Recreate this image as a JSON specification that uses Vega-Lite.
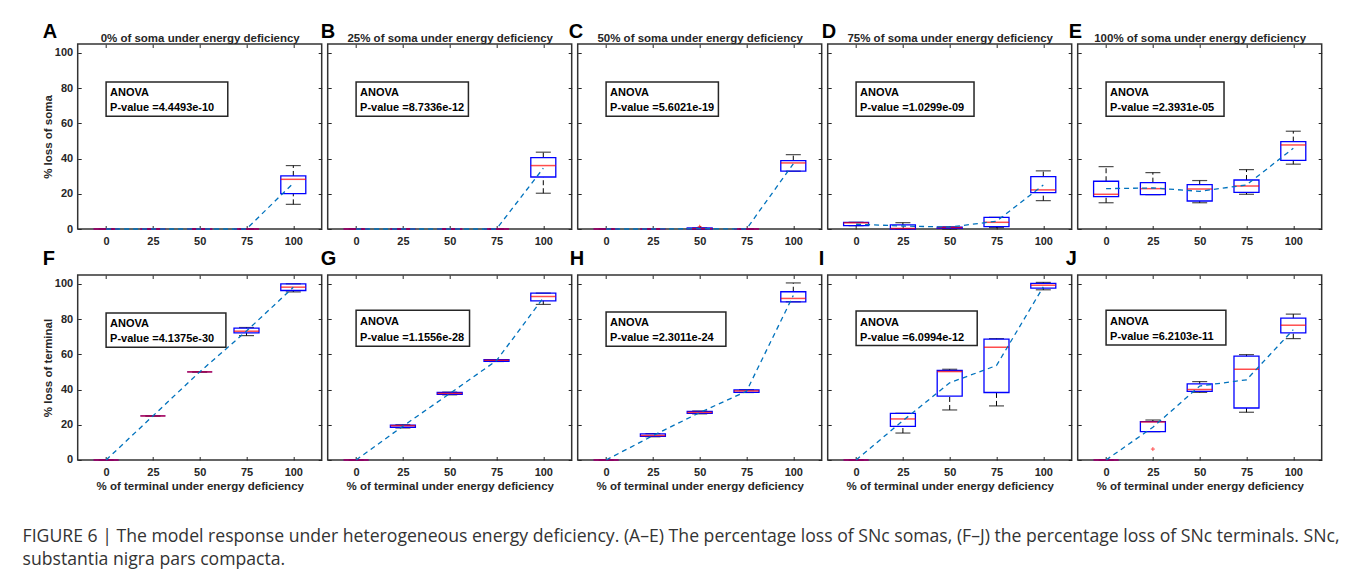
{
"$schema": "https://vega.github.io/schema/vega-lite/v6.json",
"background": "white",
"padding": {"left": 21.7, "top": 20, "right": 5, "bottom": 5},
"bounds": "flush",
"columns": 5,
"spacing": {"row": 46, "column": 6},
"title": {"text": ["FIGURE 6 | The model response under heterogeneous energy deficiency. (A–E) The percentage loss of SNc somas, (F–J) the percentage loss of SNc terminals. SNc,", "substantia nigra pars compacta."], "orient": "bottom", "anchor": "start", "frame": "bounds", "font": "Open Sans", "fontSize": 17.65, "fontWeight": "normal", "color": "#333333", "lineHeight": 23.3, "offset": 35, "dx": -19, "align": "left"},
"datasets": {
"boxes": [
{"panel":"A","level":0,"lo":0,"q1":0,"med":0,"q3":0,"hi":0,"mean":0},
{"panel":"A","level":25,"lo":0,"q1":0,"med":0,"q3":0,"hi":0,"mean":0},
{"panel":"A","level":50,"lo":0,"q1":0,"med":0,"q3":0,"hi":0,"mean":0},
{"panel":"A","level":75,"lo":0,"q1":0,"med":0,"q3":0,"hi":0,"mean":0},
{"panel":"A","level":100,"lo":14.0,"q1":20.1,"med":28.2,"q3":30.1,"hi":36.0,"mean":26.0},
{"panel":"B","level":0,"lo":0,"q1":0,"med":0,"q3":0,"hi":0,"mean":0},
{"panel":"B","level":25,"lo":0,"q1":0,"med":0,"q3":0,"hi":0,"mean":0},
{"panel":"B","level":50,"lo":0,"q1":0,"med":0,"q3":0,"hi":0,"mean":0},
{"panel":"B","level":75,"lo":0,"q1":0,"med":0,"q3":0,"hi":0,"mean":0},
{"panel":"B","level":100,"lo":20.3,"q1":29.5,"med":36.0,"q3":40.5,"hi":43.6,"mean":34.5},
{"panel":"C","level":0,"lo":0,"q1":0,"med":0,"q3":0,"hi":0,"mean":0},
{"panel":"C","level":25,"lo":0,"q1":0,"med":0,"q3":0,"hi":0,"mean":0},
{"panel":"C","level":50,"lo":0,"q1":0,"med":0.2,"q3":0.6,"hi":0.6,"mean":0.2},
{"panel":"C","level":75,"lo":0,"q1":0,"med":0,"q3":0,"hi":0,"mean":0},
{"panel":"C","level":100,"lo":32.8,"q1":32.8,"med":37.5,"q3":38.8,"hi":42.2,"mean":37.0},
{"panel":"D","level":0,"lo":1.9,"q1":1.9,"med":3.5,"q3":3.8,"hi":3.8,"mean":2.7},
{"panel":"D","level":25,"lo":0,"q1":0,"med":0.3,"q3":2.3,"hi":3.6,"mean":1.7},
{"panel":"D","level":50,"lo":0,"q1":0.3,"med":0.8,"q3":1.1,"hi":1.2,"mean":1.1},
{"panel":"D","level":75,"lo":0.8,"q1":1.3,"med":3.8,"q3":6.6,"hi":6.6,"mean":4.4},
{"panel":"D","level":100,"lo":16.1,"q1":20.6,"med":22.2,"q3":29.7,"hi":33.0,"mean":25.0},
{"panel":"E","level":0,"lo":14.9,"q1":18.4,"med":19.7,"q3":27.1,"hi":35.4,"mean":22.9},
{"panel":"E","level":25,"lo":19.5,"q1":19.5,"med":22.9,"q3":26.3,"hi":32.0,"mean":23.3},
{"panel":"E","level":50,"lo":14.9,"q1":15.9,"med":22.7,"q3":25.2,"hi":27.5,"mean":21.4},
{"panel":"E","level":75,"lo":19.7,"q1":20.8,"med":24.4,"q3":27.8,"hi":33.7,"mean":25.0},
{"panel":"E","level":100,"lo":36.8,"q1":39.0,"med":47.7,"q3":49.6,"hi":55.5,"mean":45.8},
{"panel":"F","level":0,"lo":0,"q1":0,"med":0,"q3":0,"hi":0,"mean":0},
{"panel":"F","level":25,"lo":25,"q1":25,"med":25,"q3":25,"hi":25,"mean":25},
{"panel":"F","level":50,"lo":50,"q1":50,"med":50,"q3":50,"hi":50,"mean":50},
{"panel":"F","level":75,"lo":70.6,"q1":72.2,"med":73.1,"q3":74.8,"hi":75.2,"mean":73.2},
{"panel":"F","level":100,"lo":95.4,"q1":96.2,"med":98.1,"q3":100.0,"hi":100.0,"mean":98.0},
{"panel":"G","level":0,"lo":0,"q1":0,"med":0,"q3":0,"hi":0,"mean":0},
{"panel":"G","level":25,"lo":18.2,"q1":18.6,"med":19.5,"q3":19.8,"hi":20.0,"mean":19.2},
{"panel":"G","level":50,"lo":37.0,"q1":37.2,"med":37.8,"q3":38.3,"hi":38.5,"mean":37.7},
{"panel":"G","level":75,"lo":55.9,"q1":56.0,"med":56.6,"q3":56.9,"hi":57.0,"mean":56.4},
{"panel":"G","level":100,"lo":88.3,"q1":90.3,"med":92.8,"q3":94.7,"hi":94.7,"mean":92.0},
{"panel":"H","level":0,"lo":0,"q1":0,"med":0,"q3":0,"hi":0,"mean":0},
{"panel":"H","level":25,"lo":13.2,"q1":13.4,"med":13.9,"q3":14.8,"hi":15.0,"mean":13.8},
{"panel":"H","level":50,"lo":26.2,"q1":26.5,"med":27.0,"q3":27.6,"hi":27.8,"mean":26.9},
{"panel":"H","level":75,"lo":38.3,"q1":38.4,"med":39.2,"q3":39.8,"hi":39.9,"mean":39.0},
{"panel":"H","level":100,"lo":89.8,"q1":89.8,"med":91.7,"q3":95.5,"hi":100.5,"mean":93.4},
{"panel":"I","level":0,"lo":0,"q1":0,"med":0,"q3":0,"hi":0,"mean":0},
{"panel":"I","level":25,"lo":15.3,"q1":19.1,"med":23.3,"q3":26.5,"hi":26.5,"mean":22.3},
{"panel":"I","level":50,"lo":28.4,"q1":36.2,"med":50.2,"q3":50.8,"hi":51.5,"mean":43.8},
{"panel":"I","level":75,"lo":30.7,"q1":38.3,"med":64.0,"q3":68.6,"hi":68.9,"mean":53.6},
{"panel":"I","level":100,"lo":96.6,"q1":97.5,"med":99.2,"q3":100.2,"hi":100.8,"mean":98.3},
{"panel":"J","level":0,"lo":0,"q1":0,"med":0,"q3":0,"hi":0,"mean":0},
{"panel":"J","level":25,"lo":16.1,"q1":16.1,"med":21.6,"q3":21.8,"hi":22.7,"mean":18.6},
{"panel":"J","level":50,"lo":38.4,"q1":39.0,"med":40.0,"q3":43.2,"hi":44.5,"mean":42.0},
{"panel":"J","level":75,"lo":27.1,"q1":29.5,"med":51.5,"q3":58.9,"hi":59.8,"mean":45.5},
{"panel":"J","level":100,"lo":68.9,"q1":72.2,"med":76.5,"q3":80.5,"hi":82.8,"mean":74.0}
],
"outliers": [
{"panel":"C","level":50,"value":1.3},
{"panel":"J","level":25,"value":6.2}
],
"anova": [
{"panel":"A","head":"ANOVA","p":"P-value =4.4493e-10"},
{"panel":"B","head":"ANOVA","p":"P-value =8.7336e-12"},
{"panel":"C","head":"ANOVA","p":"P-value =5.6021e-19"},
{"panel":"D","head":"ANOVA","p":"P-value =1.0299e-09"},
{"panel":"E","head":"ANOVA","p":"P-value =2.3931e-05"},
{"panel":"F","head":"ANOVA","p":"P-value =4.1375e-30"},
{"panel":"G","head":"ANOVA","p":"P-value =1.1556e-28"},
{"panel":"H","head":"ANOVA","p":"P-value =2.3011e-24"},
{"panel":"I","head":"ANOVA","p":"P-value =6.0994e-12"},
{"panel":"J","head":"ANOVA","p":"P-value =6.2103e-11"}
]
},
"concat": [
{"width": 244, "height": 185,
 "title": {"text": "A", "align": "left", "dx": -35, "offset": -9},
 "data": {"name": "boxes"},
 "transform": [{"filter": "datum.panel === 'A'"}],
 "layer": [
  {"mark": {"type": "rule", "color": "#000000", "strokeWidth": 1, "strokeDash": [5, 3]},
   "encoding": {
    "x": {"field": "level", "type": "quantitative", "scale": {"domain": [-12.5, 112.5], "nice": false, "zero": false}, "axis": {"orient": "bottom", "values": [0, 25, 50, 75, 100], "title": null}},
    "y": {"field": "lo", "type": "quantitative", "scale": {"domain": [0, 105], "nice": false, "zero": false}, "axis": {"orient": "left", "values": [0, 20, 40, 60, 80, 100], "title": "% loss of soma", "titlePadding": 1}},
    "y2": {"field": "q1"}}},
  {"mark": {"type": "rule", "color": "#000000", "strokeWidth": 1, "strokeDash": [5, 3]},
   "encoding": {
    "x": {"field": "level", "type": "quantitative", "scale": {"domain": [-12.5, 112.5], "nice": false, "zero": false}, "axis": {"orient": "top", "values": [0, 25, 50, 75, 100], "labels": false, "title": "0% of soma under energy deficiency", "titlePadding": 0}},
    "y": {"field": "q3", "type": "quantitative", "scale": {"domain": [0, 105], "nice": false, "zero": false}, "axis": {"orient": "right", "values": [0, 20, 40, 60, 80, 100], "labels": false, "title": null}},
    "y2": {"field": "hi"}}},
  {"mark": {"type": "tick", "orient": "horizontal", "color": "#000000", "size": 15, "thickness": 1.2}, "encoding": {"x": {"field": "level", "type": "quantitative", "axis": null}, "y": {"field": "lo", "type": "quantitative", "axis": null}}},
  {"mark": {"type": "tick", "orient": "horizontal", "color": "#000000", "size": 15, "thickness": 1.2}, "encoding": {"x": {"field": "level", "type": "quantitative", "axis": null}, "y": {"field": "hi", "type": "quantitative", "axis": null}}},
  {"mark": {"type": "bar", "width": 25, "fill": "transparent", "stroke": "#0000ff", "strokeWidth": 1.3}, "encoding": {"x": {"field": "level", "type": "quantitative", "axis": null}, "y": {"field": "q1", "type": "quantitative", "axis": null}, "y2": {"field": "q3"}}},
  {"mark": {"type": "tick", "orient": "horizontal", "color": "#ff0000", "size": 25, "thickness": 1.5}, "encoding": {"x": {"field": "level", "type": "quantitative", "axis": null}, "y": {"field": "med", "type": "quantitative", "axis": null}}},
  {"mark": {"type": "line", "color": "#0072bd", "strokeWidth": 1.3, "strokeDash": [5, 4]}, "encoding": {"x": {"field": "level", "type": "quantitative", "axis": null}, "y": {"field": "mean", "type": "quantitative", "axis": null}}},
  {"data": {"name": "anova"}, "transform": [{"filter": "datum.panel === 'A'"}], "mark": {"type": "rect", "fill": "#ffffff", "stroke": "#262626", "strokeWidth": 1.5}, "encoding": {"x": {"datum": 0, "type": "quantitative", "axis": null}, "x2": {"datum": 65}, "y": {"datum": 83.5, "type": "quantitative", "axis": null}, "y2": {"datum": 64}}},
  {"data": {"name": "anova"}, "transform": [{"filter": "datum.panel === 'A'"}], "mark": {"type": "text", "align": "left", "baseline": "alphabetic", "dx": 4, "fontSize": 11, "fontWeight": "bold", "color": "#000000"}, "encoding": {"x": {"datum": 0, "type": "quantitative", "axis": null}, "y": {"datum": 75.3, "type": "quantitative", "axis": null}, "text": {"field": "head", "type": "nominal"}}},
  {"data": {"name": "anova"}, "transform": [{"filter": "datum.panel === 'A'"}], "mark": {"type": "text", "align": "left", "baseline": "alphabetic", "dx": 4, "fontSize": 11, "fontWeight": "bold", "color": "#000000"}, "encoding": {"x": {"datum": 0, "type": "quantitative", "axis": null}, "y": {"datum": 66.8, "type": "quantitative", "axis": null}, "text": {"field": "p", "type": "nominal"}}}
 ],
 "resolve": {"axis": {"x": "independent", "y": "independent"}}
},
{"width": 244, "height": 185,
 "title": {"text": "B", "align": "left", "dx": -7, "offset": -9},
 "data": {"name": "boxes"},
 "transform": [{"filter": "datum.panel === 'B'"}],
 "layer": [
  {"mark": {"type": "rule", "color": "#000000", "strokeWidth": 1, "strokeDash": [5, 3]},
   "encoding": {
    "x": {"field": "level", "type": "quantitative", "scale": {"domain": [-12.5, 112.5], "nice": false, "zero": false}, "axis": {"orient": "bottom", "values": [0, 25, 50, 75, 100], "title": null}},
    "y": {"field": "lo", "type": "quantitative", "scale": {"domain": [0, 105], "nice": false, "zero": false}, "axis": {"orient": "left", "values": [0, 20, 40, 60, 80, 100], "labels": false, "title": null}},
    "y2": {"field": "q1"}}},
  {"mark": {"type": "rule", "color": "#000000", "strokeWidth": 1, "strokeDash": [5, 3]},
   "encoding": {
    "x": {"field": "level", "type": "quantitative", "scale": {"domain": [-12.5, 112.5], "nice": false, "zero": false}, "axis": {"orient": "top", "values": [0, 25, 50, 75, 100], "labels": false, "title": "25% of soma under energy deficiency", "titlePadding": 0}},
    "y": {"field": "q3", "type": "quantitative", "scale": {"domain": [0, 105], "nice": false, "zero": false}, "axis": {"orient": "right", "values": [0, 20, 40, 60, 80, 100], "labels": false, "title": null}},
    "y2": {"field": "hi"}}},
  {"mark": {"type": "tick", "orient": "horizontal", "color": "#000000", "size": 15, "thickness": 1.2}, "encoding": {"x": {"field": "level", "type": "quantitative", "axis": null}, "y": {"field": "lo", "type": "quantitative", "axis": null}}},
  {"mark": {"type": "tick", "orient": "horizontal", "color": "#000000", "size": 15, "thickness": 1.2}, "encoding": {"x": {"field": "level", "type": "quantitative", "axis": null}, "y": {"field": "hi", "type": "quantitative", "axis": null}}},
  {"mark": {"type": "bar", "width": 25, "fill": "transparent", "stroke": "#0000ff", "strokeWidth": 1.3}, "encoding": {"x": {"field": "level", "type": "quantitative", "axis": null}, "y": {"field": "q1", "type": "quantitative", "axis": null}, "y2": {"field": "q3"}}},
  {"mark": {"type": "tick", "orient": "horizontal", "color": "#ff0000", "size": 25, "thickness": 1.5}, "encoding": {"x": {"field": "level", "type": "quantitative", "axis": null}, "y": {"field": "med", "type": "quantitative", "axis": null}}},
  {"mark": {"type": "line", "color": "#0072bd", "strokeWidth": 1.3, "strokeDash": [5, 4]}, "encoding": {"x": {"field": "level", "type": "quantitative", "axis": null}, "y": {"field": "mean", "type": "quantitative", "axis": null}}},
  {"data": {"name": "anova"}, "transform": [{"filter": "datum.panel === 'B'"}], "mark": {"type": "rect", "fill": "#ffffff", "stroke": "#262626", "strokeWidth": 1.5}, "encoding": {"x": {"datum": 0, "type": "quantitative", "axis": null}, "x2": {"datum": 60}, "y": {"datum": 83.5, "type": "quantitative", "axis": null}, "y2": {"datum": 64}}},
  {"data": {"name": "anova"}, "transform": [{"filter": "datum.panel === 'B'"}], "mark": {"type": "text", "align": "left", "baseline": "alphabetic", "dx": 4, "fontSize": 11, "fontWeight": "bold", "color": "#000000"}, "encoding": {"x": {"datum": 0, "type": "quantitative", "axis": null}, "y": {"datum": 75.3, "type": "quantitative", "axis": null}, "text": {"field": "head", "type": "nominal"}}},
  {"data": {"name": "anova"}, "transform": [{"filter": "datum.panel === 'B'"}], "mark": {"type": "text", "align": "left", "baseline": "alphabetic", "dx": 4, "fontSize": 11, "fontWeight": "bold", "color": "#000000"}, "encoding": {"x": {"datum": 0, "type": "quantitative", "axis": null}, "y": {"datum": 66.8, "type": "quantitative", "axis": null}, "text": {"field": "p", "type": "nominal"}}}
 ],
 "resolve": {"axis": {"x": "independent", "y": "independent"}}
},
{"width": 244, "height": 185,
 "title": {"text": "C", "align": "left", "dx": -9, "offset": -9},
 "data": {"name": "boxes"},
 "transform": [{"filter": "datum.panel === 'C'"}],
 "layer": [
  {"mark": {"type": "rule", "color": "#000000", "strokeWidth": 1, "strokeDash": [5, 3]},
   "encoding": {
    "x": {"field": "level", "type": "quantitative", "scale": {"domain": [-12.5, 112.5], "nice": false, "zero": false}, "axis": {"orient": "bottom", "values": [0, 25, 50, 75, 100], "title": null}},
    "y": {"field": "lo", "type": "quantitative", "scale": {"domain": [0, 105], "nice": false, "zero": false}, "axis": {"orient": "left", "values": [0, 20, 40, 60, 80, 100], "labels": false, "title": null}},
    "y2": {"field": "q1"}}},
  {"mark": {"type": "rule", "color": "#000000", "strokeWidth": 1, "strokeDash": [5, 3]},
   "encoding": {
    "x": {"field": "level", "type": "quantitative", "scale": {"domain": [-12.5, 112.5], "nice": false, "zero": false}, "axis": {"orient": "top", "values": [0, 25, 50, 75, 100], "labels": false, "title": "50% of soma under energy deficiency", "titlePadding": 0}},
    "y": {"field": "q3", "type": "quantitative", "scale": {"domain": [0, 105], "nice": false, "zero": false}, "axis": {"orient": "right", "values": [0, 20, 40, 60, 80, 100], "labels": false, "title": null}},
    "y2": {"field": "hi"}}},
  {"mark": {"type": "tick", "orient": "horizontal", "color": "#000000", "size": 15, "thickness": 1.2}, "encoding": {"x": {"field": "level", "type": "quantitative", "axis": null}, "y": {"field": "lo", "type": "quantitative", "axis": null}}},
  {"mark": {"type": "tick", "orient": "horizontal", "color": "#000000", "size": 15, "thickness": 1.2}, "encoding": {"x": {"field": "level", "type": "quantitative", "axis": null}, "y": {"field": "hi", "type": "quantitative", "axis": null}}},
  {"mark": {"type": "bar", "width": 25, "fill": "transparent", "stroke": "#0000ff", "strokeWidth": 1.3}, "encoding": {"x": {"field": "level", "type": "quantitative", "axis": null}, "y": {"field": "q1", "type": "quantitative", "axis": null}, "y2": {"field": "q3"}}},
  {"mark": {"type": "tick", "orient": "horizontal", "color": "#ff0000", "size": 25, "thickness": 1.5}, "encoding": {"x": {"field": "level", "type": "quantitative", "axis": null}, "y": {"field": "med", "type": "quantitative", "axis": null}}},
  {"data": {"name": "outliers"}, "transform": [{"filter": "datum.panel === 'C'"}],
   "mark": {"type": "point", "shape": "M-1,0L1,0M0,-1L0,1", "filled": false, "stroke": "#ff0000", "strokeWidth": 1, "size": 16},
   "encoding": {"x": {"field": "level", "type": "quantitative", "axis": null}, "y": {"field": "value", "type": "quantitative", "axis": null}}},
  {"mark": {"type": "line", "color": "#0072bd", "strokeWidth": 1.3, "strokeDash": [5, 4]}, "encoding": {"x": {"field": "level", "type": "quantitative", "axis": null}, "y": {"field": "mean", "type": "quantitative", "axis": null}}},
  {"data": {"name": "anova"}, "transform": [{"filter": "datum.panel === 'C'"}], "mark": {"type": "rect", "fill": "#ffffff", "stroke": "#262626", "strokeWidth": 1.5}, "encoding": {"x": {"datum": 0, "type": "quantitative", "axis": null}, "x2": {"datum": 60}, "y": {"datum": 83.5, "type": "quantitative", "axis": null}, "y2": {"datum": 64}}},
  {"data": {"name": "anova"}, "transform": [{"filter": "datum.panel === 'C'"}], "mark": {"type": "text", "align": "left", "baseline": "alphabetic", "dx": 4, "fontSize": 11, "fontWeight": "bold", "color": "#000000"}, "encoding": {"x": {"datum": 0, "type": "quantitative", "axis": null}, "y": {"datum": 75.3, "type": "quantitative", "axis": null}, "text": {"field": "head", "type": "nominal"}}},
  {"data": {"name": "anova"}, "transform": [{"filter": "datum.panel === 'C'"}], "mark": {"type": "text", "align": "left", "baseline": "alphabetic", "dx": 4, "fontSize": 11, "fontWeight": "bold", "color": "#000000"}, "encoding": {"x": {"datum": 0, "type": "quantitative", "axis": null}, "y": {"datum": 66.8, "type": "quantitative", "axis": null}, "text": {"field": "p", "type": "nominal"}}}
 ],
 "resolve": {"axis": {"x": "independent", "y": "independent"}}
},
{"width": 244, "height": 185,
 "title": {"text": "D", "align": "left", "dx": -6, "offset": -9},
 "data": {"name": "boxes"},
 "transform": [{"filter": "datum.panel === 'D'"}],
 "layer": [
  {"mark": {"type": "rule", "color": "#000000", "strokeWidth": 1, "strokeDash": [5, 3]},
   "encoding": {
    "x": {"field": "level", "type": "quantitative", "scale": {"domain": [-12.5, 112.5], "nice": false, "zero": false}, "axis": {"orient": "bottom", "values": [0, 25, 50, 75, 100], "title": null}},
    "y": {"field": "lo", "type": "quantitative", "scale": {"domain": [0, 105], "nice": false, "zero": false}, "axis": {"orient": "left", "values": [0, 20, 40, 60, 80, 100], "labels": false, "title": null}},
    "y2": {"field": "q1"}}},
  {"mark": {"type": "rule", "color": "#000000", "strokeWidth": 1, "strokeDash": [5, 3]},
   "encoding": {
    "x": {"field": "level", "type": "quantitative", "scale": {"domain": [-12.5, 112.5], "nice": false, "zero": false}, "axis": {"orient": "top", "values": [0, 25, 50, 75, 100], "labels": false, "title": "75% of soma under energy deficiency", "titlePadding": 0}},
    "y": {"field": "q3", "type": "quantitative", "scale": {"domain": [0, 105], "nice": false, "zero": false}, "axis": {"orient": "right", "values": [0, 20, 40, 60, 80, 100], "labels": false, "title": null}},
    "y2": {"field": "hi"}}},
  {"mark": {"type": "tick", "orient": "horizontal", "color": "#000000", "size": 15, "thickness": 1.2}, "encoding": {"x": {"field": "level", "type": "quantitative", "axis": null}, "y": {"field": "lo", "type": "quantitative", "axis": null}}},
  {"mark": {"type": "tick", "orient": "horizontal", "color": "#000000", "size": 15, "thickness": 1.2}, "encoding": {"x": {"field": "level", "type": "quantitative", "axis": null}, "y": {"field": "hi", "type": "quantitative", "axis": null}}},
  {"mark": {"type": "bar", "width": 25, "fill": "transparent", "stroke": "#0000ff", "strokeWidth": 1.3}, "encoding": {"x": {"field": "level", "type": "quantitative", "axis": null}, "y": {"field": "q1", "type": "quantitative", "axis": null}, "y2": {"field": "q3"}}},
  {"mark": {"type": "tick", "orient": "horizontal", "color": "#ff0000", "size": 25, "thickness": 1.5}, "encoding": {"x": {"field": "level", "type": "quantitative", "axis": null}, "y": {"field": "med", "type": "quantitative", "axis": null}}},
  {"mark": {"type": "line", "color": "#0072bd", "strokeWidth": 1.3, "strokeDash": [5, 4]}, "encoding": {"x": {"field": "level", "type": "quantitative", "axis": null}, "y": {"field": "mean", "type": "quantitative", "axis": null}}},
  {"data": {"name": "anova"}, "transform": [{"filter": "datum.panel === 'D'"}], "mark": {"type": "rect", "fill": "#ffffff", "stroke": "#262626", "strokeWidth": 1.5}, "encoding": {"x": {"datum": 0, "type": "quantitative", "axis": null}, "x2": {"datum": 63}, "y": {"datum": 83.5, "type": "quantitative", "axis": null}, "y2": {"datum": 64}}},
  {"data": {"name": "anova"}, "transform": [{"filter": "datum.panel === 'D'"}], "mark": {"type": "text", "align": "left", "baseline": "alphabetic", "dx": 4, "fontSize": 11, "fontWeight": "bold", "color": "#000000"}, "encoding": {"x": {"datum": 0, "type": "quantitative", "axis": null}, "y": {"datum": 75.3, "type": "quantitative", "axis": null}, "text": {"field": "head", "type": "nominal"}}},
  {"data": {"name": "anova"}, "transform": [{"filter": "datum.panel === 'D'"}], "mark": {"type": "text", "align": "left", "baseline": "alphabetic", "dx": 4, "fontSize": 11, "fontWeight": "bold", "color": "#000000"}, "encoding": {"x": {"datum": 0, "type": "quantitative", "axis": null}, "y": {"datum": 66.8, "type": "quantitative", "axis": null}, "text": {"field": "p", "type": "nominal"}}}
 ],
 "resolve": {"axis": {"x": "independent", "y": "independent"}}
},
{"width": 244, "height": 185,
 "title": {"text": "E", "align": "left", "dx": -9, "offset": -9},
 "data": {"name": "boxes"},
 "transform": [{"filter": "datum.panel === 'E'"}],
 "layer": [
  {"mark": {"type": "rule", "color": "#000000", "strokeWidth": 1, "strokeDash": [5, 3]},
   "encoding": {
    "x": {"field": "level", "type": "quantitative", "scale": {"domain": [-12.5, 112.5], "nice": false, "zero": false}, "axis": {"orient": "bottom", "values": [0, 25, 50, 75, 100], "title": null}},
    "y": {"field": "lo", "type": "quantitative", "scale": {"domain": [0, 105], "nice": false, "zero": false}, "axis": {"orient": "left", "values": [0, 20, 40, 60, 80, 100], "labels": false, "title": null}},
    "y2": {"field": "q1"}}},
  {"mark": {"type": "rule", "color": "#000000", "strokeWidth": 1, "strokeDash": [5, 3]},
   "encoding": {
    "x": {"field": "level", "type": "quantitative", "scale": {"domain": [-12.5, 112.5], "nice": false, "zero": false}, "axis": {"orient": "top", "values": [0, 25, 50, 75, 100], "labels": false, "title": "100% of soma under energy deficiency", "titlePadding": 0}},
    "y": {"field": "q3", "type": "quantitative", "scale": {"domain": [0, 105], "nice": false, "zero": false}, "axis": {"orient": "right", "values": [0, 20, 40, 60, 80, 100], "labels": false, "title": null}},
    "y2": {"field": "hi"}}},
  {"mark": {"type": "tick", "orient": "horizontal", "color": "#000000", "size": 15, "thickness": 1.2}, "encoding": {"x": {"field": "level", "type": "quantitative", "axis": null}, "y": {"field": "lo", "type": "quantitative", "axis": null}}},
  {"mark": {"type": "tick", "orient": "horizontal", "color": "#000000", "size": 15, "thickness": 1.2}, "encoding": {"x": {"field": "level", "type": "quantitative", "axis": null}, "y": {"field": "hi", "type": "quantitative", "axis": null}}},
  {"mark": {"type": "bar", "width": 25, "fill": "transparent", "stroke": "#0000ff", "strokeWidth": 1.3}, "encoding": {"x": {"field": "level", "type": "quantitative", "axis": null}, "y": {"field": "q1", "type": "quantitative", "axis": null}, "y2": {"field": "q3"}}},
  {"mark": {"type": "tick", "orient": "horizontal", "color": "#ff0000", "size": 25, "thickness": 1.5}, "encoding": {"x": {"field": "level", "type": "quantitative", "axis": null}, "y": {"field": "med", "type": "quantitative", "axis": null}}},
  {"mark": {"type": "line", "color": "#0072bd", "strokeWidth": 1.3, "strokeDash": [5, 4]}, "encoding": {"x": {"field": "level", "type": "quantitative", "axis": null}, "y": {"field": "mean", "type": "quantitative", "axis": null}}},
  {"data": {"name": "anova"}, "transform": [{"filter": "datum.panel === 'E'"}], "mark": {"type": "rect", "fill": "#ffffff", "stroke": "#262626", "strokeWidth": 1.5}, "encoding": {"x": {"datum": 0, "type": "quantitative", "axis": null}, "x2": {"datum": 63}, "y": {"datum": 83.5, "type": "quantitative", "axis": null}, "y2": {"datum": 64}}},
  {"data": {"name": "anova"}, "transform": [{"filter": "datum.panel === 'E'"}], "mark": {"type": "text", "align": "left", "baseline": "alphabetic", "dx": 4, "fontSize": 11, "fontWeight": "bold", "color": "#000000"}, "encoding": {"x": {"datum": 0, "type": "quantitative", "axis": null}, "y": {"datum": 75.3, "type": "quantitative", "axis": null}, "text": {"field": "head", "type": "nominal"}}},
  {"data": {"name": "anova"}, "transform": [{"filter": "datum.panel === 'E'"}], "mark": {"type": "text", "align": "left", "baseline": "alphabetic", "dx": 4, "fontSize": 11, "fontWeight": "bold", "color": "#000000"}, "encoding": {"x": {"datum": 0, "type": "quantitative", "axis": null}, "y": {"datum": 66.8, "type": "quantitative", "axis": null}, "text": {"field": "p", "type": "nominal"}}}
 ],
 "resolve": {"axis": {"x": "independent", "y": "independent"}}
},
{"width": 244, "height": 185,
 "title": {"text": "F", "align": "left", "dx": -35, "offset": 6},
 "data": {"name": "boxes"},
 "transform": [{"filter": "datum.panel === 'F'"}],
 "layer": [
  {"mark": {"type": "rule", "color": "#000000", "strokeWidth": 1, "strokeDash": [5, 3]},
   "encoding": {
    "x": {"field": "level", "type": "quantitative", "scale": {"domain": [-12.5, 112.5], "nice": false, "zero": false}, "axis": {"orient": "bottom", "values": [0, 25, 50, 75, 100], "title": "% of terminal under energy deficiency", "titlePadding": 3}},
    "y": {"field": "lo", "type": "quantitative", "scale": {"domain": [0, 105], "nice": false, "zero": false}, "axis": {"orient": "left", "values": [0, 20, 40, 60, 80, 100], "title": "% loss of terminal", "titlePadding": 1}},
    "y2": {"field": "q1"}}},
  {"mark": {"type": "rule", "color": "#000000", "strokeWidth": 1, "strokeDash": [5, 3]},
   "encoding": {
    "x": {"field": "level", "type": "quantitative", "scale": {"domain": [-12.5, 112.5], "nice": false, "zero": false}, "axis": {"orient": "top", "values": [0, 25, 50, 75, 100], "labels": false, "title": null}},
    "y": {"field": "q3", "type": "quantitative", "scale": {"domain": [0, 105], "nice": false, "zero": false}, "axis": {"orient": "right", "values": [0, 20, 40, 60, 80, 100], "labels": false, "title": null}},
    "y2": {"field": "hi"}}},
  {"mark": {"type": "tick", "orient": "horizontal", "color": "#000000", "size": 15, "thickness": 1.2}, "encoding": {"x": {"field": "level", "type": "quantitative", "axis": null}, "y": {"field": "lo", "type": "quantitative", "axis": null}}},
  {"mark": {"type": "tick", "orient": "horizontal", "color": "#000000", "size": 15, "thickness": 1.2}, "encoding": {"x": {"field": "level", "type": "quantitative", "axis": null}, "y": {"field": "hi", "type": "quantitative", "axis": null}}},
  {"mark": {"type": "bar", "width": 25, "fill": "transparent", "stroke": "#0000ff", "strokeWidth": 1.3}, "encoding": {"x": {"field": "level", "type": "quantitative", "axis": null}, "y": {"field": "q1", "type": "quantitative", "axis": null}, "y2": {"field": "q3"}}},
  {"mark": {"type": "tick", "orient": "horizontal", "color": "#ff0000", "size": 25, "thickness": 1.5}, "encoding": {"x": {"field": "level", "type": "quantitative", "axis": null}, "y": {"field": "med", "type": "quantitative", "axis": null}}},
  {"mark": {"type": "line", "color": "#0072bd", "strokeWidth": 1.3, "strokeDash": [5, 4]}, "encoding": {"x": {"field": "level", "type": "quantitative", "axis": null}, "y": {"field": "mean", "type": "quantitative", "axis": null}}},
  {"data": {"name": "anova"}, "transform": [{"filter": "datum.panel === 'F'"}], "mark": {"type": "rect", "fill": "#ffffff", "stroke": "#262626", "strokeWidth": 1.5}, "encoding": {"x": {"datum": 0, "type": "quantitative", "axis": null}, "x2": {"datum": 64}, "y": {"datum": 83.5, "type": "quantitative", "axis": null}, "y2": {"datum": 64}}},
  {"data": {"name": "anova"}, "transform": [{"filter": "datum.panel === 'F'"}], "mark": {"type": "text", "align": "left", "baseline": "alphabetic", "dx": 4, "fontSize": 11, "fontWeight": "bold", "color": "#000000"}, "encoding": {"x": {"datum": 0, "type": "quantitative", "axis": null}, "y": {"datum": 75.3, "type": "quantitative", "axis": null}, "text": {"field": "head", "type": "nominal"}}},
  {"data": {"name": "anova"}, "transform": [{"filter": "datum.panel === 'F'"}], "mark": {"type": "text", "align": "left", "baseline": "alphabetic", "dx": 4, "fontSize": 11, "fontWeight": "bold", "color": "#000000"}, "encoding": {"x": {"datum": 0, "type": "quantitative", "axis": null}, "y": {"datum": 66.8, "type": "quantitative", "axis": null}, "text": {"field": "p", "type": "nominal"}}}
 ],
 "resolve": {"axis": {"x": "independent", "y": "independent"}}
},
{"width": 244, "height": 185,
 "title": {"text": "G", "align": "left", "dx": -7, "offset": 6},
 "data": {"name": "boxes"},
 "transform": [{"filter": "datum.panel === 'G'"}],
 "layer": [
  {"mark": {"type": "rule", "color": "#000000", "strokeWidth": 1, "strokeDash": [5, 3]},
   "encoding": {
    "x": {"field": "level", "type": "quantitative", "scale": {"domain": [-12.5, 112.5], "nice": false, "zero": false}, "axis": {"orient": "bottom", "values": [0, 25, 50, 75, 100], "title": "% of terminal under energy deficiency", "titlePadding": 3}},
    "y": {"field": "lo", "type": "quantitative", "scale": {"domain": [0, 105], "nice": false, "zero": false}, "axis": {"orient": "left", "values": [0, 20, 40, 60, 80, 100], "labels": false, "title": null}},
    "y2": {"field": "q1"}}},
  {"mark": {"type": "rule", "color": "#000000", "strokeWidth": 1, "strokeDash": [5, 3]},
   "encoding": {
    "x": {"field": "level", "type": "quantitative", "scale": {"domain": [-12.5, 112.5], "nice": false, "zero": false}, "axis": {"orient": "top", "values": [0, 25, 50, 75, 100], "labels": false, "title": null}},
    "y": {"field": "q3", "type": "quantitative", "scale": {"domain": [0, 105], "nice": false, "zero": false}, "axis": {"orient": "right", "values": [0, 20, 40, 60, 80, 100], "labels": false, "title": null}},
    "y2": {"field": "hi"}}},
  {"mark": {"type": "tick", "orient": "horizontal", "color": "#000000", "size": 15, "thickness": 1.2}, "encoding": {"x": {"field": "level", "type": "quantitative", "axis": null}, "y": {"field": "lo", "type": "quantitative", "axis": null}}},
  {"mark": {"type": "tick", "orient": "horizontal", "color": "#000000", "size": 15, "thickness": 1.2}, "encoding": {"x": {"field": "level", "type": "quantitative", "axis": null}, "y": {"field": "hi", "type": "quantitative", "axis": null}}},
  {"mark": {"type": "bar", "width": 25, "fill": "transparent", "stroke": "#0000ff", "strokeWidth": 1.3}, "encoding": {"x": {"field": "level", "type": "quantitative", "axis": null}, "y": {"field": "q1", "type": "quantitative", "axis": null}, "y2": {"field": "q3"}}},
  {"mark": {"type": "tick", "orient": "horizontal", "color": "#ff0000", "size": 25, "thickness": 1.5}, "encoding": {"x": {"field": "level", "type": "quantitative", "axis": null}, "y": {"field": "med", "type": "quantitative", "axis": null}}},
  {"mark": {"type": "line", "color": "#0072bd", "strokeWidth": 1.3, "strokeDash": [5, 4]}, "encoding": {"x": {"field": "level", "type": "quantitative", "axis": null}, "y": {"field": "mean", "type": "quantitative", "axis": null}}},
  {"data": {"name": "anova"}, "transform": [{"filter": "datum.panel === 'G'"}], "mark": {"type": "rect", "fill": "#ffffff", "stroke": "#262626", "strokeWidth": 1.5}, "encoding": {"x": {"datum": 0, "type": "quantitative", "axis": null}, "x2": {"datum": 60.6}, "y": {"datum": 85, "type": "quantitative", "axis": null}, "y2": {"datum": 64.6}}},
  {"data": {"name": "anova"}, "transform": [{"filter": "datum.panel === 'G'"}], "mark": {"type": "text", "align": "left", "baseline": "alphabetic", "dx": 4, "fontSize": 11, "fontWeight": "bold", "color": "#000000"}, "encoding": {"x": {"datum": 0, "type": "quantitative", "axis": null}, "y": {"datum": 76.5, "type": "quantitative", "axis": null}, "text": {"field": "head", "type": "nominal"}}},
  {"data": {"name": "anova"}, "transform": [{"filter": "datum.panel === 'G'"}], "mark": {"type": "text", "align": "left", "baseline": "alphabetic", "dx": 4, "fontSize": 11, "fontWeight": "bold", "color": "#000000"}, "encoding": {"x": {"datum": 0, "type": "quantitative", "axis": null}, "y": {"datum": 67.8, "type": "quantitative", "axis": null}, "text": {"field": "p", "type": "nominal"}}}
 ],
 "resolve": {"axis": {"x": "independent", "y": "independent"}}
},
{"width": 244, "height": 185,
 "title": {"text": "H", "align": "left", "dx": -8, "offset": 6},
 "data": {"name": "boxes"},
 "transform": [{"filter": "datum.panel === 'H'"}],
 "layer": [
  {"mark": {"type": "rule", "color": "#000000", "strokeWidth": 1, "strokeDash": [5, 3]},
   "encoding": {
    "x": {"field": "level", "type": "quantitative", "scale": {"domain": [-12.5, 112.5], "nice": false, "zero": false}, "axis": {"orient": "bottom", "values": [0, 25, 50, 75, 100], "title": "% of terminal under energy deficiency", "titlePadding": 3}},
    "y": {"field": "lo", "type": "quantitative", "scale": {"domain": [0, 105], "nice": false, "zero": false}, "axis": {"orient": "left", "values": [0, 20, 40, 60, 80, 100], "labels": false, "title": null}},
    "y2": {"field": "q1"}}},
  {"mark": {"type": "rule", "color": "#000000", "strokeWidth": 1, "strokeDash": [5, 3]},
   "encoding": {
    "x": {"field": "level", "type": "quantitative", "scale": {"domain": [-12.5, 112.5], "nice": false, "zero": false}, "axis": {"orient": "top", "values": [0, 25, 50, 75, 100], "labels": false, "title": null}},
    "y": {"field": "q3", "type": "quantitative", "scale": {"domain": [0, 105], "nice": false, "zero": false}, "axis": {"orient": "right", "values": [0, 20, 40, 60, 80, 100], "labels": false, "title": null}},
    "y2": {"field": "hi"}}},
  {"mark": {"type": "tick", "orient": "horizontal", "color": "#000000", "size": 15, "thickness": 1.2}, "encoding": {"x": {"field": "level", "type": "quantitative", "axis": null}, "y": {"field": "lo", "type": "quantitative", "axis": null}}},
  {"mark": {"type": "tick", "orient": "horizontal", "color": "#000000", "size": 15, "thickness": 1.2}, "encoding": {"x": {"field": "level", "type": "quantitative", "axis": null}, "y": {"field": "hi", "type": "quantitative", "axis": null}}},
  {"mark": {"type": "bar", "width": 25, "fill": "transparent", "stroke": "#0000ff", "strokeWidth": 1.3}, "encoding": {"x": {"field": "level", "type": "quantitative", "axis": null}, "y": {"field": "q1", "type": "quantitative", "axis": null}, "y2": {"field": "q3"}}},
  {"mark": {"type": "tick", "orient": "horizontal", "color": "#ff0000", "size": 25, "thickness": 1.5}, "encoding": {"x": {"field": "level", "type": "quantitative", "axis": null}, "y": {"field": "med", "type": "quantitative", "axis": null}}},
  {"mark": {"type": "line", "color": "#0072bd", "strokeWidth": 1.3, "strokeDash": [5, 4]}, "encoding": {"x": {"field": "level", "type": "quantitative", "axis": null}, "y": {"field": "mean", "type": "quantitative", "axis": null}}},
  {"data": {"name": "anova"}, "transform": [{"filter": "datum.panel === 'H'"}], "mark": {"type": "rect", "fill": "#ffffff", "stroke": "#262626", "strokeWidth": 1.5}, "encoding": {"x": {"datum": 0, "type": "quantitative", "axis": null}, "x2": {"datum": 64}, "y": {"datum": 84, "type": "quantitative", "axis": null}, "y2": {"datum": 64.6}}},
  {"data": {"name": "anova"}, "transform": [{"filter": "datum.panel === 'H'"}], "mark": {"type": "text", "align": "left", "baseline": "alphabetic", "dx": 4, "fontSize": 11, "fontWeight": "bold", "color": "#000000"}, "encoding": {"x": {"datum": 0, "type": "quantitative", "axis": null}, "y": {"datum": 75.8, "type": "quantitative", "axis": null}, "text": {"field": "head", "type": "nominal"}}},
  {"data": {"name": "anova"}, "transform": [{"filter": "datum.panel === 'H'"}], "mark": {"type": "text", "align": "left", "baseline": "alphabetic", "dx": 4, "fontSize": 11, "fontWeight": "bold", "color": "#000000"}, "encoding": {"x": {"datum": 0, "type": "quantitative", "axis": null}, "y": {"datum": 67.3, "type": "quantitative", "axis": null}, "text": {"field": "p", "type": "nominal"}}}
 ],
 "resolve": {"axis": {"x": "independent", "y": "independent"}}
},
{"width": 244, "height": 185,
 "title": {"text": "I", "align": "left", "dx": -9, "offset": 6},
 "data": {"name": "boxes"},
 "transform": [{"filter": "datum.panel === 'I'"}],
 "layer": [
  {"mark": {"type": "rule", "color": "#000000", "strokeWidth": 1, "strokeDash": [5, 3]},
   "encoding": {
    "x": {"field": "level", "type": "quantitative", "scale": {"domain": [-12.5, 112.5], "nice": false, "zero": false}, "axis": {"orient": "bottom", "values": [0, 25, 50, 75, 100], "title": "% of terminal under energy deficiency", "titlePadding": 3}},
    "y": {"field": "lo", "type": "quantitative", "scale": {"domain": [0, 105], "nice": false, "zero": false}, "axis": {"orient": "left", "values": [0, 20, 40, 60, 80, 100], "labels": false, "title": null}},
    "y2": {"field": "q1"}}},
  {"mark": {"type": "rule", "color": "#000000", "strokeWidth": 1, "strokeDash": [5, 3]},
   "encoding": {
    "x": {"field": "level", "type": "quantitative", "scale": {"domain": [-12.5, 112.5], "nice": false, "zero": false}, "axis": {"orient": "top", "values": [0, 25, 50, 75, 100], "labels": false, "title": null}},
    "y": {"field": "q3", "type": "quantitative", "scale": {"domain": [0, 105], "nice": false, "zero": false}, "axis": {"orient": "right", "values": [0, 20, 40, 60, 80, 100], "labels": false, "title": null}},
    "y2": {"field": "hi"}}},
  {"mark": {"type": "tick", "orient": "horizontal", "color": "#000000", "size": 15, "thickness": 1.2}, "encoding": {"x": {"field": "level", "type": "quantitative", "axis": null}, "y": {"field": "lo", "type": "quantitative", "axis": null}}},
  {"mark": {"type": "tick", "orient": "horizontal", "color": "#000000", "size": 15, "thickness": 1.2}, "encoding": {"x": {"field": "level", "type": "quantitative", "axis": null}, "y": {"field": "hi", "type": "quantitative", "axis": null}}},
  {"mark": {"type": "bar", "width": 25, "fill": "transparent", "stroke": "#0000ff", "strokeWidth": 1.3}, "encoding": {"x": {"field": "level", "type": "quantitative", "axis": null}, "y": {"field": "q1", "type": "quantitative", "axis": null}, "y2": {"field": "q3"}}},
  {"mark": {"type": "tick", "orient": "horizontal", "color": "#ff0000", "size": 25, "thickness": 1.5}, "encoding": {"x": {"field": "level", "type": "quantitative", "axis": null}, "y": {"field": "med", "type": "quantitative", "axis": null}}},
  {"mark": {"type": "line", "color": "#0072bd", "strokeWidth": 1.3, "strokeDash": [5, 4]}, "encoding": {"x": {"field": "level", "type": "quantitative", "axis": null}, "y": {"field": "mean", "type": "quantitative", "axis": null}}},
  {"data": {"name": "anova"}, "transform": [{"filter": "datum.panel === 'I'"}], "mark": {"type": "rect", "fill": "#ffffff", "stroke": "#262626", "strokeWidth": 1.5}, "encoding": {"x": {"datum": 0, "type": "quantitative", "axis": null}, "x2": {"datum": 64.7}, "y": {"datum": 84.5, "type": "quantitative", "axis": null}, "y2": {"datum": 65}}},
  {"data": {"name": "anova"}, "transform": [{"filter": "datum.panel === 'I'"}], "mark": {"type": "text", "align": "left", "baseline": "alphabetic", "dx": 4, "fontSize": 11, "fontWeight": "bold", "color": "#000000"}, "encoding": {"x": {"datum": 0, "type": "quantitative", "axis": null}, "y": {"datum": 76.2, "type": "quantitative", "axis": null}, "text": {"field": "head", "type": "nominal"}}},
  {"data": {"name": "anova"}, "transform": [{"filter": "datum.panel === 'I'"}], "mark": {"type": "text", "align": "left", "baseline": "alphabetic", "dx": 4, "fontSize": 11, "fontWeight": "bold", "color": "#000000"}, "encoding": {"x": {"datum": 0, "type": "quantitative", "axis": null}, "y": {"datum": 67.7, "type": "quantitative", "axis": null}, "text": {"field": "p", "type": "nominal"}}}
 ],
 "resolve": {"axis": {"x": "independent", "y": "independent"}}
},
{"width": 244, "height": 185,
 "title": {"text": "J", "align": "left", "dx": -12, "offset": 6},
 "data": {"name": "boxes"},
 "transform": [{"filter": "datum.panel === 'J'"}],
 "layer": [
  {"mark": {"type": "rule", "color": "#000000", "strokeWidth": 1, "strokeDash": [5, 3]},
   "encoding": {
    "x": {"field": "level", "type": "quantitative", "scale": {"domain": [-12.5, 112.5], "nice": false, "zero": false}, "axis": {"orient": "bottom", "values": [0, 25, 50, 75, 100], "title": "% of terminal under energy deficiency", "titlePadding": 3}},
    "y": {"field": "lo", "type": "quantitative", "scale": {"domain": [0, 105], "nice": false, "zero": false}, "axis": {"orient": "left", "values": [0, 20, 40, 60, 80, 100], "labels": false, "title": null}},
    "y2": {"field": "q1"}}},
  {"mark": {"type": "rule", "color": "#000000", "strokeWidth": 1, "strokeDash": [5, 3]},
   "encoding": {
    "x": {"field": "level", "type": "quantitative", "scale": {"domain": [-12.5, 112.5], "nice": false, "zero": false}, "axis": {"orient": "top", "values": [0, 25, 50, 75, 100], "labels": false, "title": null}},
    "y": {"field": "q3", "type": "quantitative", "scale": {"domain": [0, 105], "nice": false, "zero": false}, "axis": {"orient": "right", "values": [0, 20, 40, 60, 80, 100], "labels": false, "title": null}},
    "y2": {"field": "hi"}}},
  {"mark": {"type": "tick", "orient": "horizontal", "color": "#000000", "size": 15, "thickness": 1.2}, "encoding": {"x": {"field": "level", "type": "quantitative", "axis": null}, "y": {"field": "lo", "type": "quantitative", "axis": null}}},
  {"mark": {"type": "tick", "orient": "horizontal", "color": "#000000", "size": 15, "thickness": 1.2}, "encoding": {"x": {"field": "level", "type": "quantitative", "axis": null}, "y": {"field": "hi", "type": "quantitative", "axis": null}}},
  {"mark": {"type": "bar", "width": 25, "fill": "transparent", "stroke": "#0000ff", "strokeWidth": 1.3}, "encoding": {"x": {"field": "level", "type": "quantitative", "axis": null}, "y": {"field": "q1", "type": "quantitative", "axis": null}, "y2": {"field": "q3"}}},
  {"mark": {"type": "tick", "orient": "horizontal", "color": "#ff0000", "size": 25, "thickness": 1.5}, "encoding": {"x": {"field": "level", "type": "quantitative", "axis": null}, "y": {"field": "med", "type": "quantitative", "axis": null}}},
  {"data": {"name": "outliers"}, "transform": [{"filter": "datum.panel === 'J'"}],
   "mark": {"type": "point", "shape": "M-1,0L1,0M0,-1L0,1", "filled": false, "stroke": "#ff0000", "strokeWidth": 1, "size": 16},
   "encoding": {"x": {"field": "level", "type": "quantitative", "axis": null}, "y": {"field": "value", "type": "quantitative", "axis": null}}},
  {"mark": {"type": "line", "color": "#0072bd", "strokeWidth": 1.3, "strokeDash": [5, 4]}, "encoding": {"x": {"field": "level", "type": "quantitative", "axis": null}, "y": {"field": "mean", "type": "quantitative", "axis": null}}},
  {"data": {"name": "anova"}, "transform": [{"filter": "datum.panel === 'J'"}], "mark": {"type": "rect", "fill": "#ffffff", "stroke": "#262626", "strokeWidth": 1.5}, "encoding": {"x": {"datum": 0, "type": "quantitative", "axis": null}, "x2": {"datum": 64}, "y": {"datum": 85, "type": "quantitative", "axis": null}, "y2": {"datum": 65.3}}},
  {"data": {"name": "anova"}, "transform": [{"filter": "datum.panel === 'J'"}], "mark": {"type": "text", "align": "left", "baseline": "alphabetic", "dx": 4, "fontSize": 11, "fontWeight": "bold", "color": "#000000"}, "encoding": {"x": {"datum": 0, "type": "quantitative", "axis": null}, "y": {"datum": 76.7, "type": "quantitative", "axis": null}, "text": {"field": "head", "type": "nominal"}}},
  {"data": {"name": "anova"}, "transform": [{"filter": "datum.panel === 'J'"}], "mark": {"type": "text", "align": "left", "baseline": "alphabetic", "dx": 4, "fontSize": 11, "fontWeight": "bold", "color": "#000000"}, "encoding": {"x": {"datum": 0, "type": "quantitative", "axis": null}, "y": {"datum": 68.1, "type": "quantitative", "axis": null}, "text": {"field": "p", "type": "nominal"}}}
 ],
 "resolve": {"axis": {"x": "independent", "y": "independent"}}
}
],
"config": {
 "font": "Liberation Sans",
 "view": {"stroke": "#333333", "strokeWidth": 1.5},
 "axis": {"domain": false, "grid": false, "ticks": true, "tickSize": -3.5, "tickColor": "#262626", "tickWidth": 1, "labelFont": "Liberation Sans", "labelFontSize": 11, "labelFontWeight": "bold", "labelColor": "#262626", "labelPadding": 10, "labelFlush": false, "labelOverlap": false, "titleFont": "Liberation Sans", "titleFontSize": 11.5, "titleFontWeight": "bold", "titleColor": "#262626"},
 "axisLeft": {"labelPadding": 8.5},
 "title": {"font": "Liberation Sans", "fontSize": 20, "fontWeight": "bold", "color": "#000000", "anchor": "start", "frame": "group"}
}
}
